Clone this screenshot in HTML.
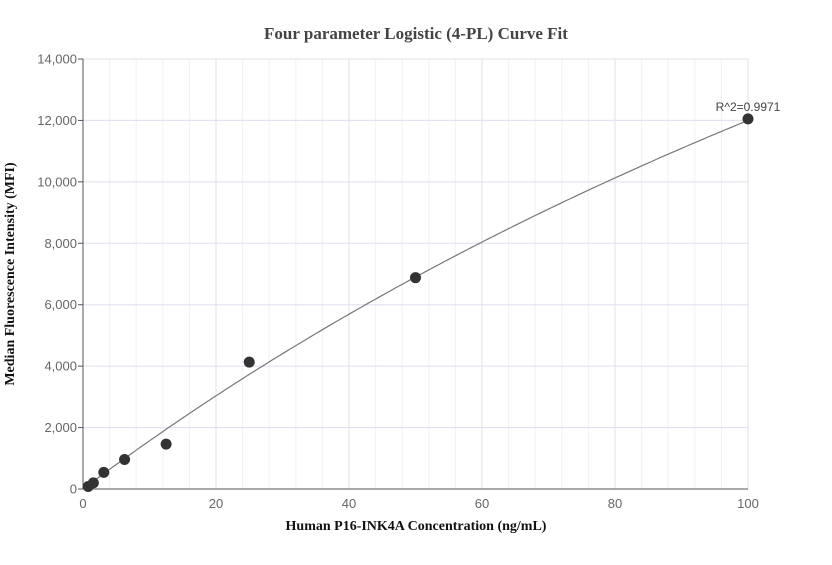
<!DOCTYPE html>
<html><head><meta charset="utf-8"><style>
body{margin:0;background:#fff}
svg text{font-family:"Liberation Sans",sans-serif}
</style></head><body>
<svg id="chart" width="832" height="560" xmlns="http://www.w3.org/2000/svg">
<text x="416" y="39" text-anchor="middle" style="font-family:'Liberation Serif',serif;font-weight:bold;font-size:17px;fill:#444">Four parameter Logistic (4-PL) Curve Fit</text>
<g id="grid"></g>
<g id="axes"></g>
<path id="curve" fill="none" stroke="#777" stroke-width="1.2"/>
<g id="pts"></g>
<text x="748" y="111" text-anchor="middle" style="font-size:12px;fill:#444">R^2=0.9971</text>
<text x="416" y="530" text-anchor="middle" style="font-family:'Liberation Serif',serif;font-weight:bold;font-size:14px;fill:#111">Human P16-INK4A Concentration (ng/mL)</text>
<text transform="translate(14,274) rotate(-90)" text-anchor="middle" style="font-family:'Liberation Serif',serif;font-weight:bold;font-size:14px;fill:#111">Median Fluorescence Intensity (MFI)</text>
</svg>
<script>
const xConc=[0.78,1.56,3.125,6.25,12.5,25,50,100];
const yMFI=[80,200,540,960,1460,4130,6880,12050];
const xTicks=[0,20,40,60,80,100];
const yTicks=[0,2000,4000,6000,8000,10000,12000,14000];
const fitD=45960, fitC=283, fitB=1;
const X0=83,X1=748,Y0=489,Y1=59;
const sx=v=>X0+(v/100)*(X1-X0);
const sy=v=>Y0-(v/14000)*(Y0-Y1);
const NS="http://www.w3.org/2000/svg";
function mk(t,a,p){const e=document.createElementNS(NS,t);for(const k in a)e.setAttribute(k,a[k]);p.appendChild(e);return e;}
const grid=document.getElementById('grid'),axes=document.getElementById('axes');
for(let v=0;v<=100;v+=4){if(v%20===0)continue;const l=mk('line',{x1:sx(v),x2:sx(v),y1:Y1,y2:Y0,stroke:'#f1f2f9'},grid);

}
xTicks.forEach(v=>{if(v>0){const l=mk('line',{x1:sx(v),x2:sx(v),y1:Y1,y2:Y0,stroke:'#dde0ee'},grid);

}
const t=mk('text',{x:sx(v),y:Y0+19,'text-anchor':'middle','font-size':'13',fill:'#666'},axes);t.textContent=v;

});
yTicks.forEach(v=>{if(v>0){const l=mk('line',{x1:X0,x2:X1,y1:sy(v),y2:sy(v),stroke:'#dde0ee'},grid);

}
const tk=mk('line',{x1:X0-5,x2:X0,y1:sy(v),y2:sy(v),stroke:'#555'},axes);


const t=mk('text',{x:X0-6,y:sy(v)+4.5,'text-anchor':'end','font-size':'13',fill:'#666'},axes);t.textContent=v.toLocaleString('en-US');

});
const ya=mk('line',{x1:X0,x2:X0,y1:Y1,y2:Y0,stroke:'#555'},axes);


const xa=mk('line',{x1:X0,x2:X1,y1:Y0,y2:Y0,stroke:'#555'},axes);


let d='';for(let i=0;i<=200;i++){const x=i/2;const y=fitD*Math.pow(x,fitB)/(Math.pow(x,fitB)+Math.pow(fitC,fitB));d+=(i?'L':'M')+sx(x).toFixed(1)+','+sy(y).toFixed(1);}
document.getElementById('curve').setAttribute('d',d);
const pts=document.getElementById('pts');
xConc.forEach((x,i)=>{const c=mk('circle',{cx:sx(x),cy:sy(yMFI[i]),r:5.5,fill:'#333'},pts);

});
</script>
</body></html>
